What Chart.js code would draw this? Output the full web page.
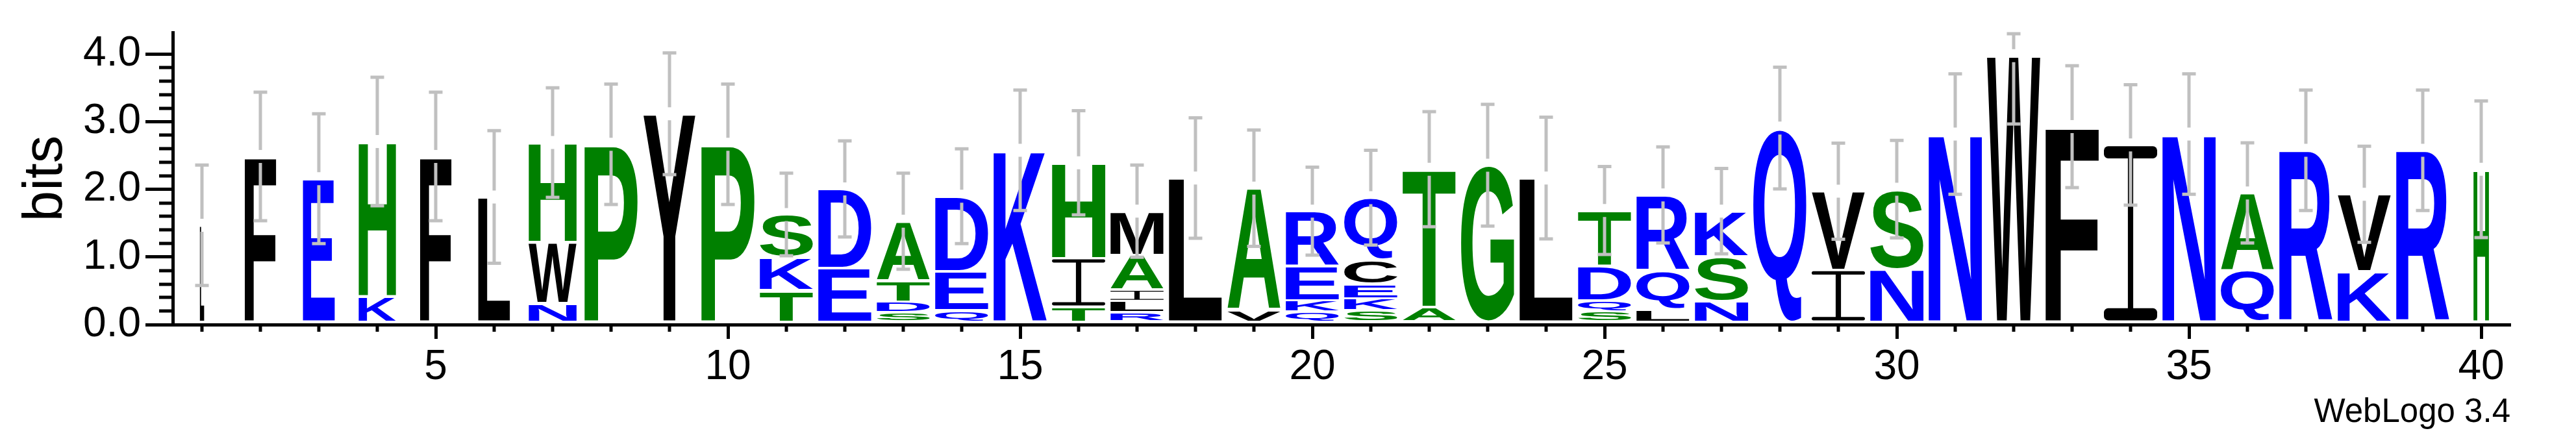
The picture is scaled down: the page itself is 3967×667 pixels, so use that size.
<!DOCTYPE html>
<html>
<head>
<meta charset="utf-8">
<title>Sequence logo</title>
<script src="https://cdn.jsdelivr.net/npm/chart.js@4.4.1/dist/chart.umd.min.js"></script>
<style>
  html, body { margin: 0; padding: 0; background: #ffffff; }
  #wrap { width: 3967px; height: 667px; }
</style>
</head>
<body>
<div id="wrap"><canvas id="logo" width="3967" height="667"></canvas></div>
<script>
// ---------------- DATA ----------------
const positions = ['1','2','3','4','5','6','7','8','9','10','11','12','13','14','15','16','17','18','19','20',
                   '21','22','23','24','25','26','27','28','29','30','31','32','33','34','35','36','37','38','39','40'];

// stack layers, bottom (smallest) first; '' / null = no letter in this layer
const letters1 = ['L','F','E','K','F','L','N','P','Y','P','T','E','S','Q','K','T','R','L','V','Q',
                  'S','A','G','L','S','L','N','Q','I','N','N','W','F','I','N','Q','R','K','R','H'];
const bits1    = [1.43,2.45,2.12,0.38,2.45,1.85,0.28,2.63,3.08,2.63,0.47,0.80,0.14,0.17,2.54,0.225,0.14,2.13,0.18,0.15,
                  0.17,0.22,2.32,2.13,0.15,0.19,0.31,2.87,0.77,0.785,2.78,3.94,2.89,2.62,2.78,0.76,2.54,0.75,2.54,2.26];

const letters2 = ['','','','H','','','W','','','','K','D','D','E','','I','L','','A','K',
                  'K','T','','','Q','Q','S','','V','S','','','','','','A','','V','',''];
const bits2    = [null,null,null,2.29,null,null,0.90,null,null,null,0.49,1.17,0.16,0.58,null,0.72,0.17,null,1.80,0.17,
                  0.18,2.04,null,null,0.17,0.57,0.66,null,1.165,1.18,null,null,null,null,null,1.15,null,1.14,null,null];

const letters3 = ['','','','','','','H','','','','S','','T','D','','H','I','','','E',
                  'E','','','','D','R','K','','','','','','','','','','','','',''];
const bits3    = [null,null,null,null,null,null,1.475,null,null,null,0.63,null,0.31,1.11,null,1.41,0.17,null,null,0.50,
                  0.21,null,null,null,0.51,1.12,0.67,null,null,null,null,null,null,null,null,null,null,null,null,null];

const letters4 = ['','','','','','','','','','','','','A','','','','A','','','R',
                  'C','','','','T','','','','','','','','','','','','','','',''];
const bits4    = [null,null,null,null,null,null,null,null,null,null,null,null,0.88,null,null,null,0.51,null,null,0.82,
                  0.36,null,null,null,0.82,null,null,null,null,null,null,null,null,null,null,null,null,null,null,null];

const letters5 = ['','','','','','','','','','','','','','','','','M','','','',
                  'Q','','','','','','','','','','','','','','','','','','',''];
const bits5    = [null,null,null,null,null,null,null,null,null,null,null,null,null,null,null,null,0.65,null,null,null,
                  0.92,null,null,null,null,null,null,null,null,null,null,null,null,null,null,null,null,null,null,null];

// fraction of sequences with a residue at each column (scales stack width)
const coverage = [0.08,0.59,0.60,0.70,0.59,0.60,0.90,1,0.98,1,1,1,1,1,1,1,1,1,1,1,
                  1,1,1,1,1,1,1,1,1,1,1,1,1,1,1,1,1,1,1,0.29];

// error bar half-length (bits)
const errorBits = [0.91,0.97,0.98,0.97,0.97,1.00,0.83,0.91,0.92,0.91,0.63,0.73,0.73,0.72,0.91,0.79,0.70,0.91,0.88,0.67,
                   0.72,0.87,0.92,0.92,0.67,0.73,0.65,0.92,0.73,0.74,0.91,1.03,0.92,0.91,0.91,0.76,0.91,0.73,0.91,1.03];

const yTicksMajor = ['0.0','1.0','2.0','3.0','4.0'];
const maxBits = Math.log2(20);

// ---------------- RENDERING ----------------
const layerLetters = [letters1, letters2, letters3, letters4, letters5];
const layerBits = [bits1, bits2, bits3, bits4, bits5];

const FONT = '"Liberation Sans", Arial, Helvetica, sans-serif';
Chart.defaults.font.family = FONT;
Chart.defaults.color = '#000000';

const BLUE = '#0000ff', GREEN = '#008000', BLACK = '#000000';
function letterColor(ch) {
  if ('RKDENQ'.includes(ch)) return BLUE;
  if ('SGHTAP'.includes(ch)) return GREEN;
  return BLACK;
}

const SHIFT = 4;   // letters sit slightly above the axis line
const INSET = 2;   // small gap between stacked letters

function drawGlyph(ctx, ch, x, y, w, h, color) {
  if (w <= 0.3 || h <= 0.3) return;
  ctx.save();
  ctx.fillStyle = color;
  if (ch === 'I') {
    const bar = Math.max(1.2, h * 0.07);
    const stem = Math.max(1, w * 0.10);
    const r = Math.min(bar / 2, w * 0.08);
    const rr = (rx, ry, rw, rh) => {
      ctx.beginPath();
      if (ctx.roundRect) ctx.roundRect(rx, ry, rw, rh, r); else ctx.rect(rx, ry, rw, rh);
      ctx.fill();
    };
    rr(x, y, w, bar);
    rr(x, y + h - bar, w, bar);
    ctx.fillRect(x + w / 2 - stem / 2, y + bar * 0.5, stem, h - bar);
  } else {
    ctx.font = 'bold 200px ' + FONT;
    ctx.textAlign = 'left';
    ctx.textBaseline = 'alphabetic';
    const m = ctx.measureText(ch);
    const gw = m.actualBoundingBoxLeft + m.actualBoundingBoxRight;
    const gh = m.actualBoundingBoxAscent + m.actualBoundingBoxDescent;
    ctx.translate(x, y);
    ctx.scale(w / gw, h / gh);
    ctx.fillText(ch, m.actualBoundingBoxLeft, m.actualBoundingBoxAscent);
  }
  ctx.restore();
}

const glyphPlugin = {
  id: 'glyphs',
  afterDatasetsDraw(chart) {
    const ctx = chart.ctx;
    chart.data.datasets.forEach((ds, k) => {
      const meta = chart.getDatasetMeta(k);
      meta.data.forEach((el, i) => {
        const ch = layerLetters[k][i];
        const v = layerBits[k][i];
        if (!ch || v == null) return;
        const p = el.getProps(['x', 'y', 'base', 'width'], true);
        const w = p.width * coverage[i];
        const top = Math.min(p.y, p.base) - SHIFT + INSET;
        const h = Math.abs(p.base - p.y) - 2 * INSET;
        drawGlyph(ctx, ch, p.x - w / 2, top, w, h, letterColor(ch));
      });
    });
  }
};

const errorPlugin = {
  id: 'errorbars',
  afterDatasetsDraw(chart) {
    const ctx = chart.ctx;
    const xs = chart.scales.x, ys = chart.scales.y;
    const top = chart.chartArea.top;
    ctx.save();
    ctx.strokeStyle = '#c0c0c0';
    ctx.lineWidth = 5;
    ctx.lineCap = 'butt';
    positions.forEach((pos, i) => {
      let total = 0;
      layerBits.forEach(b => { if (b[i] != null) total += b[i]; });
      const x = xs.getPixelForValue(i);
      const yc = ys.getPixelForValue(total) - SHIFT;
      const yHi = Math.max(top, ys.getPixelForValue(Math.min(maxBits, total + errorBits[i])) - SHIFT);
      const yLo = ys.getPixelForValue(Math.max(0, total - errorBits[i])) - SHIFT;
      const gap = 10, cap = 10.5;
      ctx.beginPath();
      ctx.moveTo(x, yHi); ctx.lineTo(x, yc - gap);
      ctx.moveTo(x, yc + gap); ctx.lineTo(x, yLo);
      ctx.moveTo(x - cap, yHi + 2); ctx.lineTo(x + cap, yHi + 2);
      ctx.moveTo(x - cap, yLo - 2); ctx.lineTo(x + cap, yLo - 2);
      ctx.stroke();
    });
    ctx.restore();
  }
};

const minorTickPlugin = {
  id: 'minorTicks',
  afterDraw(chart) {
    const ctx = chart.ctx;
    const xs = chart.scales.x, ys = chart.scales.y;
    const area = chart.chartArea;
    ctx.save();
    ctx.strokeStyle = '#000';
    ctx.lineWidth = 5;
    ys.ticks.forEach(t => {
      if (Math.abs(t.value - Math.round(t.value)) < 1e-6) return;
      const y = Math.round(ys.getPixelForValue(t.value));
      ctx.beginPath(); ctx.moveTo(area.left - 21, y); ctx.lineTo(area.left, y); ctx.stroke();
    });
    positions.forEach((pos, i) => {
      if (Number(pos) % 5 === 0) return;
      const x = Math.round(xs.getPixelForValue(i));
      ctx.beginPath(); ctx.moveTo(x, area.bottom); ctx.lineTo(x, area.bottom + 11); ctx.stroke();
    });
    // credit line
    ctx.fillStyle = '#000';
    ctx.font = '51px ' + FONT;
    ctx.textAlign = 'right';
    ctx.textBaseline = 'alphabetic';
    ctx.fillText('WebLogo 3.4', area.right, area.bottom + 150);
    ctx.restore();
  }
};

const isMajorY = v => Math.abs(v - Math.round(v)) < 1e-6;

new Chart(document.getElementById('logo'), {
  type: 'bar',
  data: {
    labels: positions,
    datasets: layerBits.map((b, k) => ({
      label: 'layer ' + (k + 1),
      data: b,
      backgroundColor: 'rgba(0,0,0,0)',
      borderWidth: 0,
      barPercentage: 0.911,
      categoryPercentage: 1.0,
      stack: 'logo'
    }))
  },
  options: {
    responsive: false,
    animation: false,
    devicePixelRatio: 1,
    layout: { padding: { top: 50, right: 101, bottom: 0, left: 0 } },
    plugins: { legend: { display: false }, tooltip: { enabled: false }, title: { display: false } },
    scales: {
      x: {
        type: 'category',
        stacked: true,
        offset: true,
        grid: {
          display: true, drawOnChartArea: false, offset: false,
          tickLength: 22, tickWidth: 5,
          tickColor: c => (c.tick && Number(positions[c.index]) % 5 === 0) ? '#000' : 'rgba(0,0,0,0)'
        },
        border: { display: true, color: '#000', width: 5 },
        ticks: {
          autoSkip: false, maxRotation: 0, minRotation: 0, padding: 6,
          font: { size: 64 }, color: '#000',
          callback: (v, i) => (Number(positions[i]) % 5 === 0 ? positions[i] : '')
        },
        afterFit: s => { s.height = 167; }
      },
      y: {
        type: 'linear',
        stacked: true,
        min: 0,
        max: maxBits,
        afterBuildTicks: s => {
          s.ticks = s.ticks.filter(t => Math.abs(t.value * 5 - Math.round(t.value * 5)) < 1e-6);
        },
        grid: {
          display: true, drawOnChartArea: false,
          tickLength: 42, tickWidth: 5,
          tickColor: c => (c.tick && isMajorY(c.tick.value)) ? '#000' : 'rgba(0,0,0,0)'
        },
        border: { display: true, color: '#000', width: 5 },
        ticks: {
          stepSize: 0.2, autoSkip: false, padding: 7,
          font: { size: 64 }, color: '#000',
          callback: v => isMajorY(v) ? yTicksMajor[Math.round(v)] : ''
        },
        title: {
          display: true, text: 'bits', color: '#000',
          font: { size: 85 }, padding: { top: 21, bottom: 0 }
        },
        afterFit: s => { s.width = 266; }
      }
    }
  },
  plugins: [glyphPlugin, errorPlugin, minorTickPlugin]
});
</script>
</body>
</html>
